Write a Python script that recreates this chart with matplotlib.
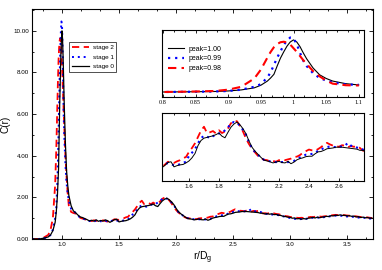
"""
plot.py - C(r) de tres etapas, con dos recuadros de detalle
"""
import numpy as np
import matplotlib
matplotlib.use("Agg")
import matplotlib.pyplot as plt
from matplotlib.ticker import AutoMinorLocator, MultipleLocator, FormatStrFormatter

plt.rcParams["font.family"] = ["Liberation Sans", "DejaVu Sans"]

# ── datos: primer pico (r de 0.74 a 1.10) ──
r_pico = [0.74, 0.80, 0.85, 0.88, 0.90, 0.92, 0.94, 0.95, 0.96, 0.965, 0.97, 0.975,
          0.98, 0.985, 0.99, 0.995, 1.0, 1.005, 1.01, 1.015, 1.02, 1.03, 1.04,
          1.05, 1.06, 1.08, 1.10]
pico_s0 = [0.0, 0.0, 0.05, 0.1, 0.2, 0.4, 0.8, 1.3, 2.1, 2.7, 3.4, 5.0,
           6.5, 7.7, 8.8, 9.6, 10.0, 9.6, 8.7, 7.5, 6.4, 4.6, 3.3,
           2.6, 2.1, 1.6, 1.35]
pico_s1 = [0.0, 0.0, 0.05, 0.1, 0.2, 0.45, 1.0, 1.5, 2.8, 3.8, 5.2, 6.6,
           7.8, 9.0, 9.9, 10.45, 10.3, 9.2, 7.5, 6.0, 5.0, 3.6, 2.7,
           2.2, 1.85, 1.45, 1.38]
pico_s2 = [0.0, 0.0, 0.1, 0.2, 0.45, 1.0, 2.6, 4.3, 6.6, 7.7, 8.6, 9.2,
           9.55, 9.65, 9.5, 9.1, 8.4, 7.7, 6.9, 6.1, 5.4, 4.0, 3.0,
           2.2, 1.6, 1.3, 1.25]

# ── datos: cola (r de 1.12 a 3.72, paso 0.02) ──
r_cola = np.round(np.arange(1.12, 3.7201, 0.02), 2)
cola_s0 = [1.26, 1.15, 1.06, 1.03, 0.98, 0.93, 0.87, 0.90, 0.86, 0.92,
           0.85, 0.89, 0.86, 0.92, 0.88, 0.80, 0.86, 0.93, 0.95, 0.82,
           0.85, 0.87, 0.88, 0.92, 0.97, 1.05, 1.16, 1.36, 1.49, 1.55,
           1.57, 1.59, 1.61, 1.64, 1.68, 1.60, 1.56, 1.70, 1.83, 1.91,
           1.96, 1.89, 1.79, 1.66, 1.48, 1.32, 1.22, 1.14, 1.06, 0.99,
           0.97, 0.95, 0.92, 0.94, 0.96, 0.93, 0.92, 0.96, 0.90, 0.94,
           1.00, 1.03, 1.05, 1.08, 1.09, 1.09, 1.15, 1.20, 1.21, 1.24,
           1.28, 1.29, 1.30, 1.32, 1.32, 1.32, 1.31, 1.30, 1.29, 1.28,
           1.27, 1.24, 1.24, 1.20, 1.22, 1.19, 1.21, 1.17, 1.18, 1.14,
           1.13, 1.09, 1.08, 1.05, 1.04, 1.00, 1.01, 0.97, 0.98, 0.95,
           0.98, 0.96, 1.00, 1.01, 1.04, 1.01, 1.05, 1.02, 1.05, 1.06,
           1.09, 1.08, 1.12, 1.11, 1.14, 1.13, 1.16, 1.13, 1.14, 1.11,
           1.12, 1.09, 1.10, 1.06, 1.07, 1.03, 1.05, 1.02, 1.03, 1.00,
           1.00]
cola_s1 = [1.24, 1.12, 1.03, 0.99, 0.95, 0.90, 0.86, 0.88, 0.84, 0.88,
           0.83, 0.86, 0.82, 0.87, 0.85, 0.84, 0.88, 0.92, 0.89, 0.86,
           0.86, 0.89, 0.92, 0.95, 1.10, 1.18, 1.27, 1.42, 1.55, 1.61,
           1.59, 1.55, 1.60, 1.64, 1.67, 1.68, 1.75, 1.82, 1.93, 1.96,
           1.94, 1.87, 1.76, 1.64, 1.45, 1.30, 1.20, 1.13, 1.05, 1.00,
           0.98, 0.96, 0.95, 0.94, 0.95, 0.94, 0.95, 0.94, 0.96, 0.97,
           1.02, 1.06, 1.10, 1.13, 1.14, 1.15, 1.17, 1.23, 1.26, 1.30,
           1.32, 1.34, 1.33, 1.32, 1.33, 1.34, 1.36, 1.43, 1.36, 1.32,
           1.31, 1.30, 1.26, 1.22, 1.20, 1.21, 1.18, 1.16, 1.17, 1.14,
           1.11, 1.09, 1.06, 1.04, 1.01, 0.99, 0.97, 0.96, 0.95, 0.96,
           0.95, 0.97, 0.99, 1.00, 1.02, 1.01, 1.03, 1.02, 1.04, 1.05,
           1.07, 1.08, 1.10, 1.11, 1.12, 1.13, 1.12, 1.11, 1.09, 1.08,
           1.09, 1.07, 1.06, 1.05, 1.03, 1.02, 1.03, 1.01, 0.99, 0.98,
           0.99]
cola_s2 = [1.22, 1.10, 1.02, 0.98, 0.95, 0.90, 0.88, 0.86, 0.90, 0.87,
           0.88, 0.84, 0.90, 0.86, 0.84, 0.81, 0.88, 0.95, 0.93, 0.92,
           0.96, 0.99, 1.04, 1.07, 1.20, 1.30, 1.42, 1.58, 1.74, 1.84,
           1.68, 1.70, 1.73, 1.67, 1.75, 1.68, 1.72, 1.80, 1.93, 1.99,
           1.98, 1.86, 1.72, 1.54, 1.40, 1.28, 1.19, 1.10, 1.04, 1.00,
           0.99, 0.96, 0.97, 0.95, 0.99, 1.00, 0.99, 1.01, 1.03, 1.07,
           1.08, 1.12, 1.18, 1.22, 1.26, 1.24, 1.23, 1.27, 1.32, 1.38,
           1.43, 1.39, 1.36, 1.35, 1.33, 1.37, 1.36, 1.32, 1.35, 1.33,
           1.35, 1.30, 1.23, 1.24, 1.22, 1.25, 1.21, 1.23, 1.20, 1.19,
           1.16, 1.14, 1.10, 1.09, 1.06, 1.05, 1.03, 1.02, 1.01, 1.02,
           1.01, 1.03, 1.04, 1.06, 1.05, 1.07, 1.06, 1.08, 1.07, 1.09,
           1.10, 1.12, 1.13, 1.15, 1.16, 1.15, 1.17, 1.16, 1.14, 1.13,
           1.12, 1.12, 1.10, 1.09, 1.07, 1.06, 1.05, 1.04, 1.04, 1.02,
           1.01]

r_todo = np.concatenate([r_pico, r_cola])
c_s0 = np.concatenate([pico_s0, cola_s0])
c_s1 = np.concatenate([pico_s1, cola_s1])
c_s2 = np.concatenate([pico_s2, cola_s2])

etiquetas_etapa = ["stage 2", "stage 1", "stage 0"]
etiquetas_pico = ["peak=1.00", "peak=0.99", "peak=0.98"]

# estilos
ROJO, AZUL, NEGRO = "#ff0000", "#0000ff", "#000000"
est_s2 = dict(color=ROJO, ls=(0, (4, 2.5)), lw=1.3)
est_s1 = dict(color=AZUL, ls=(0, (1, 2)), lw=1.4)
est_s0 = dict(color=NEGRO, ls="-", lw=0.9)


def estilo_ticks(ax, largo=2.5, fs=4.5):
    ax.tick_params(which="both", direction="in", top=True, right=True,
                   labelsize=fs, width=0.6, pad=2)
    ax.tick_params(which="major", length=largo)
    ax.tick_params(which="minor", length=largo * 0.55)
    for s in ax.spines.values():
        s.set_linewidth(0.8)


fig = plt.figure(figsize=(3.82, 2.70), dpi=100)

# ══════════ gráfico principal ══════════
ax = fig.add_axes([32 / 382, 1 - 239 / 270, 341 / 382, 230 / 270])
ax.plot(r_todo, c_s2, label=etiquetas_etapa[0], **est_s2)
ax.plot(r_todo, c_s1, label=etiquetas_etapa[1], **est_s1)
ax.plot(r_todo, c_s0, label=etiquetas_etapa[2], **est_s0)
ax.set_xlim(0.737, 3.728)
ax.set_ylim(0, 11.05)
ax.xaxis.set_major_locator(MultipleLocator(0.5))
ax.xaxis.set_minor_locator(AutoMinorLocator(3))
ax.yaxis.set_major_locator(MultipleLocator(2))
ax.yaxis.set_minor_locator(AutoMinorLocator(2))
ax.xaxis.set_major_formatter(FormatStrFormatter("%.1f"))
ax.yaxis.set_major_formatter(FormatStrFormatter("%.2f"))
estilo_ticks(ax, largo=3.0)
ax.set_ylabel("C(r)", fontsize=7.2, labelpad=2)
ax.set_xlabel(r"r/D$_\mathregular{g}$", fontsize=7.5, labelpad=2)
leg = ax.legend(loc="upper left", bbox_to_anchor=(0.1, 0.87), fontsize=4.6,
                frameon=True, fancybox=False, handlelength=2.6, handletextpad=0.6,
                labelspacing=0.6, borderpad=0.45)
leg.get_frame().set_edgecolor("black")
leg.get_frame().set_linewidth(0.6)

# ══════════ recuadro 1: primer pico ══════════
ax1 = fig.add_axes([162 / 382, 1 - 97 / 270, 202 / 382, 67 / 270])
ax1.plot(r_pico, pico_s0, label=etiquetas_pico[0], color=NEGRO, lw=0.8)
ax1.plot(r_pico, pico_s1, label=etiquetas_pico[1], color=AZUL, ls=(0, (1, 2.2)), lw=1.6)
ax1.plot(r_pico, pico_s2, label=etiquetas_pico[2], color=ROJO, ls=(0, (4, 2.5)), lw=1.5)
ax1.set_xlim(0.7985, 1.108)
ax1.set_ylim(-0.96, 11.9)
ax1.xaxis.set_major_locator(MultipleLocator(0.05))
ax1.xaxis.set_minor_locator(AutoMinorLocator(3))
ax1.xaxis.set_major_formatter(FormatStrFormatter("%g"))
ax1.set_yticks([])
estilo_ticks(ax1, largo=2.2, fs=4.5)
for t in ax1.get_xticklabels():
    t.set_family("Liberation Serif")
ax1.legend(loc="upper left", fontsize=5.0, frameon=False, handlelength=2.3,
           handletextpad=0.6, labelspacing=0.4, borderaxespad=0.5,
           bbox_to_anchor=(0.0, 0.86))

# ══════════ recuadro 2: segundo pico ══════════
ax2 = fig.add_axes([162 / 382, 1 - 181 / 270, 202 / 382, 68 / 270])
ax2.plot(r_todo, c_s2, **est_s2)
ax2.plot(r_todo, c_s1, color=AZUL, ls=(0, (1, 2)), lw=1.5)
ax2.plot(r_todo, c_s0, color=NEGRO, lw=0.7)
ax2.set_xlim(1.42, 2.767)
ax2.set_ylim(0.46, 2.19)
ax2.xaxis.set_major_locator(MultipleLocator(0.2))
ax2.xaxis.set_minor_locator(AutoMinorLocator(2))
ax2.xaxis.set_major_formatter(FormatStrFormatter("%g"))
ax2.set_yticks([])
estilo_ticks(ax2, largo=2.2, fs=4.5)

fig.savefig("out.png", dpi=100)
